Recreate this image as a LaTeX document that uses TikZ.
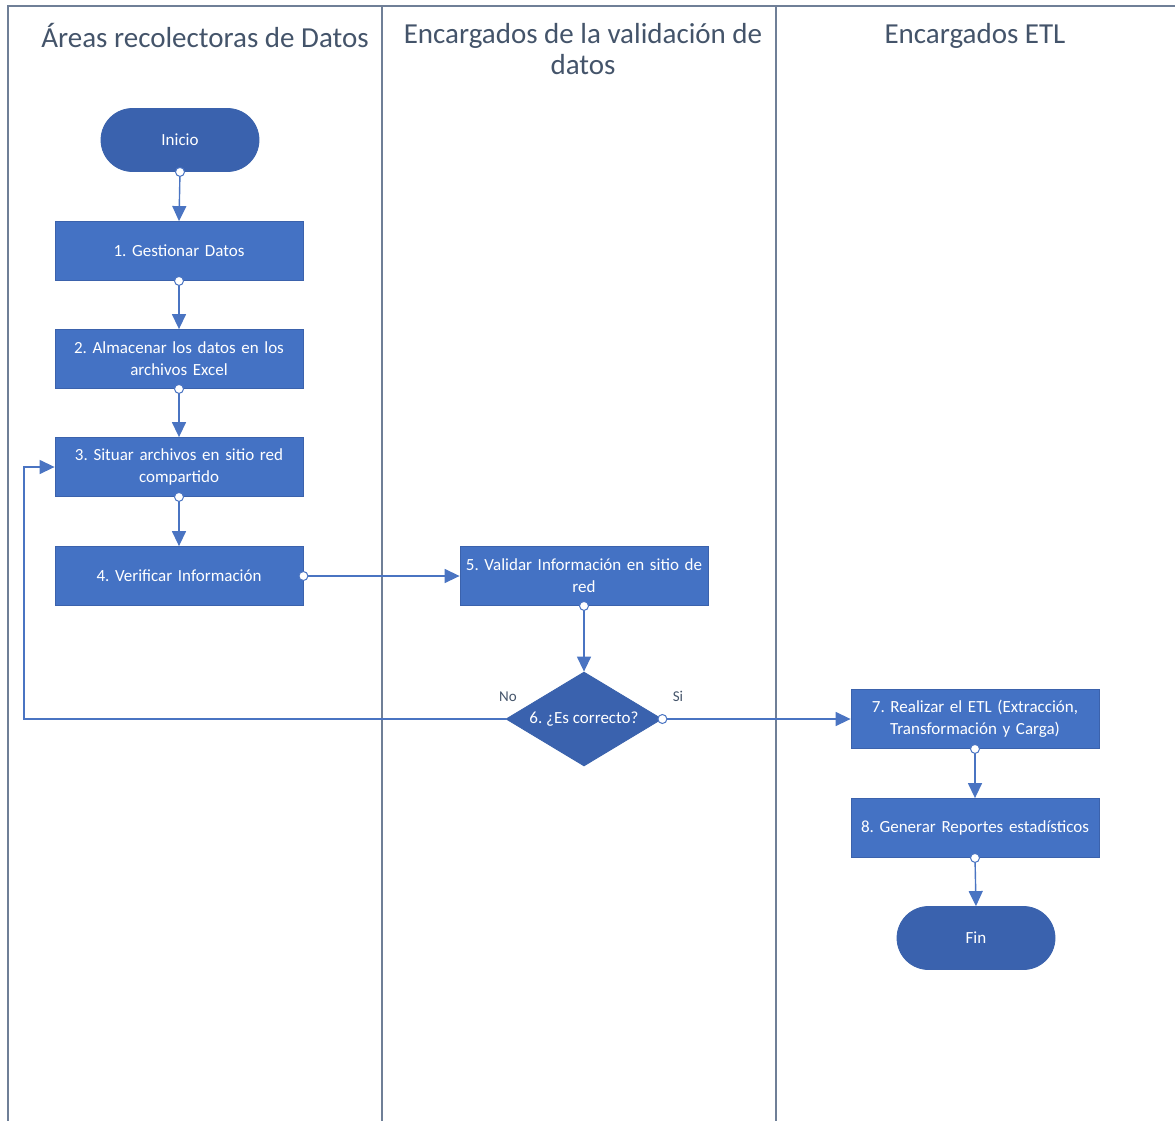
\documentclass[tikz,border=0pt]{standalone}
\usepackage{fontspec}
\setmainfont{Carlito}
\usetikzlibrary{arrows.meta,shapes.misc,shapes.geometric}
\definecolor{boxblue}{HTML}{4472C4}
\definecolor{boxedge}{HTML}{3B62AC}
\definecolor{termblue}{HTML}{3A62AE}
\definecolor{linkblue}{HTML}{4A74C2}
\definecolor{lanegray}{HTML}{6F7F97}
\definecolor{headtext}{HTML}{44546A}
\begin{document}
\frenchspacing
\begin{tikzpicture}[x=1pt,y=-1pt,
 stepbox/.style={rectangle,fill=boxblue,draw=boxedge,line width=0.8pt,minimum width=248pt,minimum height=59pt,text width=240pt,align=center,text=white,font=\fontsize{17}{22}\selectfont,inner sep=0pt},
 term/.style={rounded rectangle,fill=termblue,draw=boxedge,line width=0.8pt,minimum width=158pt,minimum height=63pt,text=white,font=\fontsize{17}{20}\selectfont,inner sep=0pt},
 decision/.style={diamond,aspect=1.66,fill=termblue,draw=boxedge,line width=0.8pt,minimum width=156pt,minimum height=94pt,inner sep=0pt,text=white,font=\fontsize{17}{20}\selectfont},
 flow/.style={draw=linkblue,line width=1.4pt,-{Triangle[length=15pt,width=14pt]}},
 port/.style={circle,draw=linkblue,fill=white,line width=1pt,minimum size=9pt,inner sep=0pt},
 lane/.style={draw=lanegray,line width=1.4pt},
 header/.style={text=headtext,font=\fontsize{29}{31}\selectfont,align=center},
 lbl/.style={text=headtext,font=\fontsize{15}{17}\selectfont}]
\useasboundingbox (0,0) rectangle (1175,1121);
% lanes
\draw[lane] (8,1121) -- (8,6) -- (1175,6);
\draw[lane] (382,6) -- (382,1121);
\draw[lane] (776,6) -- (776,1121);
% headers
\node[header] (h1) at (205,36) {Áreas recolectoras de Datos};
\node[header] (h2) at (583,49) {Encargados de la validación de\\datos};
\node[header] (h3) at (975,36) {Encargados ETL};
% nodes
\node[term] (inicio) at (180,140) {Inicio};
\node[stepbox] (b1) at (179,251) {1. Gestionar Datos};
\node[stepbox] (b2) at (179,359) {2. Almacenar los datos en los\\archivos Excel};
\node[stepbox] (b3) at (179,467) {3. Situar archivos en sitio red\\compartido};
\node[stepbox] (b4) at (179,576) {4. Verificar Información};
\node[stepbox] (b5) at (584,576) {5. Validar Información en sitio de\\red};
\node[decision] (d6) at (584,719) {6. ¿Es correcto?};
\node[stepbox] (b7) at (975,719) {7. Realizar el ETL (Extracción,\\Transformación y Carga)};
\node[stepbox] (b8) at (975,828) {8. Generar Reportes estadísticos};
\node[term] (fin) at (976,938) {Fin};
% connectors
\draw[flow] (inicio.south) -- (b1.north);
\draw[flow] (b1.south) -- (b2.north);
\draw[flow] (b2.south) -- (b3.north);
\draw[flow] (b3.south) -- (b4.north);
\draw[flow] (b4.east) -- (b5.west);
\draw[flow] (b5.south) -- (d6.north);
\coordinate (lb) at (24,719);
\draw[flow] (d6.west) -- (lb) -- (lb |- b3.west) -- (b3.west);
\draw[flow] (d6.east) -- (b7.west);
\draw[flow] (b7.south) -- (b8.north);
\draw[flow] (b8.south) -- (fin.north);
% ports
\node[port] (p0) at (inicio.south) {};
\node[port] (p1) at (b1.south) {};
\node[port] (p2) at (b2.south) {};
\node[port] (p3) at (b3.south) {};
\node[port] (p4) at (b4.east) {};
\node[port] (p5) at (b5.south) {};
\node[port] (p6) at (d6.east) {};
\node[port] (p7) at (b7.south) {};
\node[port] (p8) at (b8.south) {};
% labels
\node[lbl] (no) at (508,697) {No};
\node[lbl] (si) at (678,696) {Si};
\end{tikzpicture}
\end{document}
